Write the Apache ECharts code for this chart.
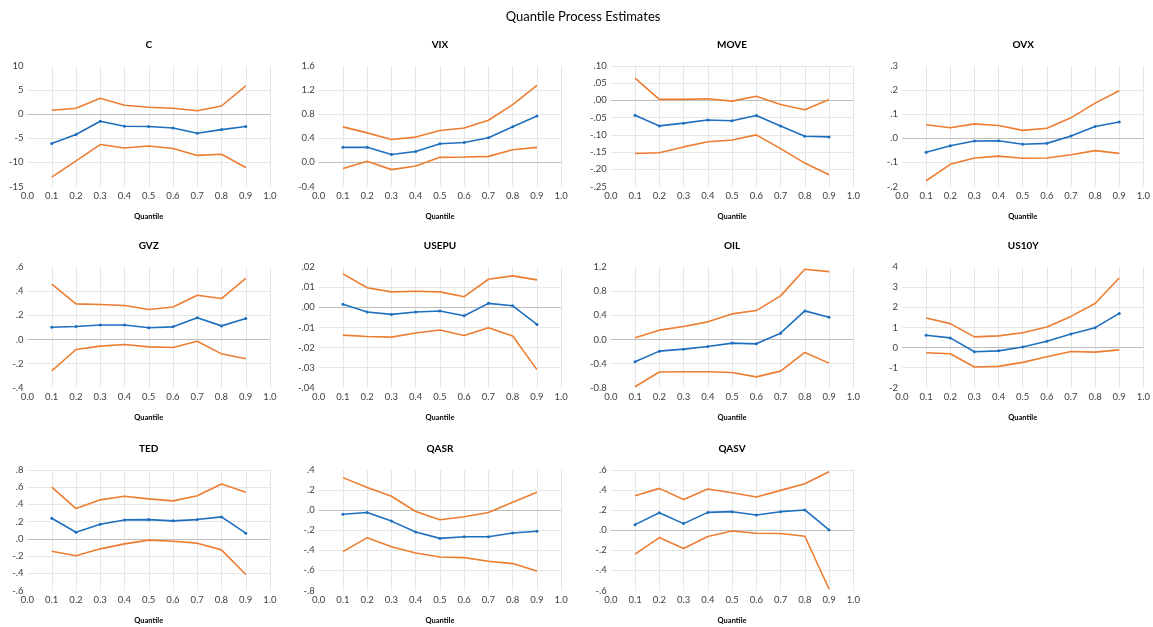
<!DOCTYPE html>
<html>
<head>
<meta charset="utf-8">
<script src="https://cdn.jsdelivr.net/npm/echarts/dist/echarts.min.js"></script>
<style>
html,body{margin:0;padding:0;background:#fff;}
#chart{width:1153px;height:627px;}
</style>
</head>
<body>
<div id="chart"></div>
<script>
// ---------- data ----------
const quantiles = [0.1, 0.2, 0.3, 0.4, 0.5, 0.6, 0.7, 0.8, 0.9];
const xTicks = ["0.0","0.1","0.2","0.3","0.4","0.5","0.6","0.7","0.8","0.9","1.0"];
const panelNames = ["C","VIX","MOVE","OVX","GVZ","USEPU","OIL","US10Y","TED","QASR","QASV"];

const C_est = [-6.1,-4.2,-1.45,-2.5,-2.55,-2.85,-3.95,-3.2,-2.55];
const C_up  = [0.83,1.25,3.3,1.85,1.45,1.25,0.7,1.7,5.9];
const C_lo  = [-13.05,-9.7,-6.3,-7.0,-6.6,-7.1,-8.55,-8.3,-11.05];
const C_ticks = ["-15","-10","-5","0","5","10"];

const VIX_est = [0.25,0.25,0.13,0.18,0.31,0.33,0.41,0.59,0.77];
const VIX_up  = [0.59,0.49,0.38,0.42,0.53,0.57,0.70,0.96,1.28];
const VIX_lo  = [-0.10,0.02,-0.12,-0.06,0.084,0.09,0.10,0.21,0.25];
const VIX_ticks = ["-0.4","0.0","0.4","0.8","1.2","1.6"];

const MOVE_est = [-0.043,-0.074,-0.066,-0.057,-0.059,-0.044,-0.074,-0.104,-0.106];
const MOVE_up  = [0.065,0.003,0.003,0.005,-0.002,0.012,-0.012,-0.027,0.003];
const MOVE_lo  = [-0.154,-0.152,-0.135,-0.12,-0.115,-0.10,-0.14,-0.182,-0.216];
const MOVE_ticks = ["-.25","-.20","-.15","-.10","-.05",".00",".05",".10"];

const OVX_est = [-0.058,-0.031,-0.011,-0.01,-0.025,-0.021,0.01,0.049,0.068];
const OVX_up  = [0.056,0.044,0.06,0.053,0.033,0.042,0.085,0.146,0.197];
const OVX_lo  = [-0.176,-0.108,-0.082,-0.074,-0.083,-0.082,-0.068,-0.051,-0.0625];
const OVX_ticks = ["-.2","-.1",".0",".1",".2",".3"];

const GVZ_est = [0.102,0.108,0.12,0.12,0.097,0.105,0.18,0.113,0.174];
const GVZ_up  = [0.46,0.296,0.29,0.282,0.249,0.27,0.367,0.34,0.508];
const GVZ_lo  = [-0.26,-0.083,-0.055,-0.041,-0.061,-0.066,-0.014,-0.119,-0.16];
const GVZ_ticks = ["-.4","-.2",".0",".2",".4",".6"];

const USEPU_est = [0.0015,-0.0023,-0.0035,-0.0023,-0.0018,-0.0042,0.002,0.0008,-0.0085];
const USEPU_up  = [0.0167,0.0098,0.0077,0.008,0.0077,0.0053,0.014,0.0157,0.0137];
const USEPU_lo  = [-0.0138,-0.0145,-0.0148,-0.0128,-0.0113,-0.014,-0.0102,-0.0143,-0.031];
const USEPU_ticks = ["-.04","-.03","-.02","-.01",".00",".01",".02"];

const OIL_est = [-0.37,-0.193,-0.16,-0.116,-0.06,-0.072,0.105,0.475,0.37];
const OIL_up  = [0.028,0.155,0.215,0.293,0.425,0.48,0.724,1.166,1.127];
const OIL_lo  = [-0.785,-0.54,-0.536,-0.536,-0.547,-0.62,-0.525,-0.215,-0.392];
const OIL_ticks = ["-0.8","-0.4","0.0","0.4","0.8","1.2"];

const US10Y_est = [0.61,0.48,-0.21,-0.165,0.03,0.31,0.675,0.99,1.70];
const US10Y_up  = [1.47,1.19,0.53,0.58,0.74,1.02,1.55,2.19,3.46];
const US10Y_lo  = [-0.26,-0.31,-0.97,-0.94,-0.74,-0.46,-0.2,-0.23,-0.115];
const US10Y_ticks = ["-2","-1","0","1","2","3","4"];

const TED_est = [0.24,0.077,0.17,0.22,0.224,0.209,0.224,0.255,0.066];
const TED_up  = [0.60,0.352,0.453,0.495,0.464,0.441,0.50,0.638,0.542];
const TED_lo  = [-0.143,-0.197,-0.116,-0.058,-0.015,-0.027,-0.05,-0.128,-0.414];
const TED_ticks = ["-.6","-.4","-.2",".0",".2",".4",".6",".8"];

const QASR_est = [-0.04,-0.023,-0.109,-0.218,-0.281,-0.264,-0.264,-0.228,-0.21];
const QASR_up  = [0.324,0.225,0.139,-0.013,-0.096,-0.066,-0.023,0.079,0.178];
const QASR_lo  = [-0.413,-0.274,-0.364,-0.426,-0.466,-0.473,-0.509,-0.532,-0.605];
const QASR_ticks = ["-.8","-.6","-.4","-.2",".0",".2",".4"];

const QASV_est = [0.056,0.175,0.066,0.178,0.185,0.152,0.185,0.202,0.003];
const QASV_up  = [0.344,0.417,0.307,0.41,0.374,0.331,0.397,0.463,0.582];
const QASV_lo  = [-0.238,-0.073,-0.182,-0.063,-0.007,-0.03,-0.033,-0.06,-0.585];
const QASV_ticks = ["-.6","-.4","-.2",".0",".2",".4",".6"];

// ---------- build ----------
const panels = [
  [C_est, C_up, C_lo, C_ticks],
  [VIX_est, VIX_up, VIX_lo, VIX_ticks],
  [MOVE_est, MOVE_up, MOVE_lo, MOVE_ticks],
  [OVX_est, OVX_up, OVX_lo, OVX_ticks],
  [GVZ_est, GVZ_up, GVZ_lo, GVZ_ticks],
  [USEPU_est, USEPU_up, USEPU_lo, USEPU_ticks],
  [OIL_est, OIL_up, OIL_lo, OIL_ticks],
  [US10Y_est, US10Y_up, US10Y_lo, US10Y_ticks],
  [TED_est, TED_up, TED_lo, TED_ticks],
  [QASR_est, QASR_up, QASR_lo, QASR_ticks],
  [QASV_est, QASV_up, QASV_lo, QASV_ticks]
];

const FONT = 'Lato';
const colLeft = [27.5, 318.7, 610.8, 902];
const rowTop = [66, 267.2, 470];
const plotW = 242.5, plotH = 120.5;
const BLUE = '#1F6FBF', ORANGE = '#ED7D31';

const pair = arr => arr.map((v, i) => [quantiles[i], v]);

const grids = [], xAxes = [], yAxes = [], series = [];
const titles = [{
  text: 'Quantile Process Estimates',
  left: 583, top: 17, textAlign: 'center', textVerticalAlign: 'middle', padding: 0,
  textStyle: {fontFamily: FONT, fontSize: 13, fontWeight: 'normal', color: '#000'}
}];

panels.forEach((p, k) => {
  const [est, up, lo, ticks] = p;
  const col = k % 4, row = Math.floor(k / 4);
  const L = colLeft[col], T = rowTop[row];
  grids.push({left: L, top: T, width: plotW, height: plotH, containLabel: false});
  titles.push({
    text: panelNames[k], left: L + plotW / 2, top: T - 21.5,
    textAlign: 'center', textVerticalAlign: 'middle', padding: 0,
    textStyle: {fontFamily: FONT, fontSize: 10, fontWeight: 'bold', color: '#000'}
  });
  const yMin = parseFloat(ticks[0]), yMax = parseFloat(ticks[ticks.length - 1]);
  const yStep = (yMax - yMin) / (ticks.length - 1);
  xAxes.push({
    gridIndex: k, type: 'value', min: 0, max: 1, interval: 0.1,
    name: 'Quantile', nameLocation: 'middle', nameGap: 26,
    nameTextStyle: {fontFamily: FONT, fontSize: 7.5, fontWeight: 'bold', color: '#000'},
    axisLine: {show: false}, axisTick: {show: false},
    axisLabel: {fontFamily: FONT, fontSize: 9.5, color: '#404040', margin: 4.5,
      formatter: v => xTicks[Math.round(v * 10)]},
    splitLine: {show: true, showMinLine: false, lineStyle: {color: '#E6E6E6', width: 1}}
  });
  yAxes.push({
    gridIndex: k, type: 'value', min: yMin, max: yMax, interval: yStep,
    axisLine: {show: false}, axisTick: {show: false},
    axisLabel: {fontFamily: FONT, fontSize: 9.5, color: '#404040', margin: 4,
      formatter: v => ticks[Math.round((v - yMin) / yStep)]},
    splitLine: {show: true, showMinLine: false, showMaxLine: false, lineStyle: {color: '#E6E6E6', width: 1}}
  });
  // zero reference line, drawn beneath the data lines
  series.push({
    type: 'line', xAxisIndex: k, yAxisIndex: k, data: [], z: 1,
    symbol: 'none', animation: false, silent: true,
    markLine: {silent: true, z: 1, symbol: 'none', animation: false, label: {show: false},
      lineStyle: {color: '#BFBFBF', width: 1.2, type: 'solid'}, data: [{yAxis: 0}]}
  });
  series.push({
    type: 'line', xAxisIndex: k, yAxisIndex: k, data: pair(lo), z: 3,
    symbol: 'none', lineStyle: {color: ORANGE, width: 1.6}, itemStyle: {color: ORANGE},
    animation: false, silent: true
  });
  series.push({
    type: 'line', xAxisIndex: k, yAxisIndex: k, data: pair(up), z: 3,
    symbol: 'none', lineStyle: {color: ORANGE, width: 1.6}, itemStyle: {color: ORANGE},
    animation: false, silent: true
  });
  series.push({
    type: 'line', xAxisIndex: k, yAxisIndex: k, data: pair(est), z: 4,
    symbol: 'circle', symbolSize: 3, showSymbol: true,
    lineStyle: {color: BLUE, width: 1.6}, itemStyle: {color: BLUE},
    animation: false, silent: true
  });
});

const chart = echarts.init(document.getElementById('chart'), null, {renderer: 'canvas'});
chart.setOption({
  backgroundColor: '#fff',
  animation: false,
  title: titles,
  grid: grids,
  xAxis: xAxes,
  yAxis: yAxes,
  series: series
});
</script>
</body>
</html>
